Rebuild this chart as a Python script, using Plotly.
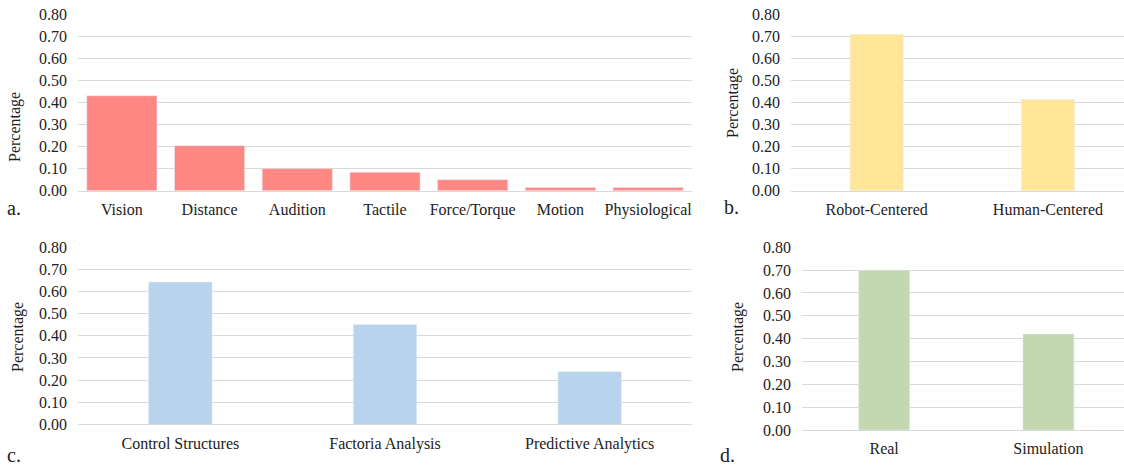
import plotly.graph_objects as go

# Panel a
sensing_cats = ["Vision", "Distance", "Audition", "Tactile", "Force/Torque", "Motion", "Physiological"]
sensing_vals = [0.43, 0.204, 0.10, 0.083, 0.05, 0.014, 0.014]
# Panel b
focus_cats = ["Robot-Centered", "Human-Centered"]
focus_vals = [0.708, 0.413]
# Panel c
method_cats = ["Control Structures", "Factoria Analysis", "Predictive Analytics"]
method_vals = [0.643, 0.451, 0.238]
# Panel d
env_cats = ["Real", "Simulation"]
env_vals = [0.70, 0.42]

y_ticks = [0.0, 0.1, 0.2, 0.3, 0.4, 0.5, 0.6, 0.7, 0.8]

W, H = 1124, 467
FONT = "Liberation Serif"
GRID = "#D9D9D9"

def px_x(p):
    return p / W

def px_y(p):
    return 1 - p / H

fig = go.Figure()

fig.add_trace(go.Bar(x=sensing_cats, y=sensing_vals, marker_color="#FF8784",
                     xaxis="x", yaxis="y", width=0.8))
fig.add_trace(go.Bar(x=focus_cats, y=focus_vals, marker_color="#FFE699",
                     xaxis="x2", yaxis="y2", width=0.31))
fig.add_trace(go.Bar(x=method_cats, y=method_vals, marker_color="#B8D3EC",
                     xaxis="x3", yaxis="y3", width=0.31))
fig.add_trace(go.Bar(x=env_cats, y=env_vals, marker_color="#C3D7B0",
                     xaxis="x4", yaxis="y4", width=0.31))

def xax(domain, anchor, rng=None):
    d = dict(domain=domain, anchor=anchor, showgrid=False, showline=True,
             linecolor=GRID, linewidth=1, ticks="", zeroline=False,
             automargin=False,
             tickfont=dict(family=FONT, size=16, color="#222"),
             ticklabelstandoff=4, fixedrange=True)
    if rng is not None:
        d["range"] = rng
    return d

def yax(domain, anchor):
    return dict(domain=domain, anchor=anchor, range=[0, 0.8], tickvals=y_ticks,
                tickformat=".2f", showgrid=True, gridcolor=GRID, gridwidth=1,
                zeroline=False, showline=False, ticks="", automargin=False,
                tickfont=dict(family=FONT, size=16, color="#222"),
                ticklabelstandoff=10, fixedrange=True)

fig.update_layout(
    width=W, height=H,
    margin=dict(l=0, r=0, t=0, b=0, autoexpand=False),
    paper_bgcolor="white", plot_bgcolor="white",
    showlegend=False,
    xaxis=xax([px_x(78), px_x(692)], "y"),
    yaxis=yax([px_y(190.7), px_y(14)], "x"),
    xaxis2=xax([px_x(791), 1.0], "y2", [-0.5, 1.444]),
    yaxis2=yax([px_y(190.7), px_y(14)], "x2"),
    xaxis3=xax([px_x(78), px_x(692)], "y3"),
    yaxis3=yax([px_y(424.3), px_y(247.3)], "x3"),
    xaxis4=xax([px_x(802), 1.0], "y4", [-0.5, 1.46]),
    yaxis4=yax([px_y(430), px_y(247.3)], "x4"),
)

anns = []
for (x, y) in [(15, 127), (733, 103), (18, 337), (738, 337)]:
    anns.append(dict(text="Percentage", x=px_x(x), y=px_y(y), xref="paper", yref="paper",
                     showarrow=False, textangle=-90, xanchor="center", yanchor="middle",
                     font=dict(family=FONT, size=16, color="#222")))
for (t, x, y) in [("a.", 14, 208), ("b.", 731, 207), ("c.", 14, 455), ("d.", 727, 455)]:
    anns.append(dict(text=t, x=px_x(x), y=px_y(y), xref="paper", yref="paper",
                     showarrow=False, xanchor="center", yanchor="middle",
                     font=dict(family=FONT, size=20, color="#222")))
fig.update_layout(annotations=anns)

# remove the default page margin so the figure fills the window exactly
fig.write_html("out.html", config={"displayModeBar": False},
               post_script="document.body.style.margin='0px';")
